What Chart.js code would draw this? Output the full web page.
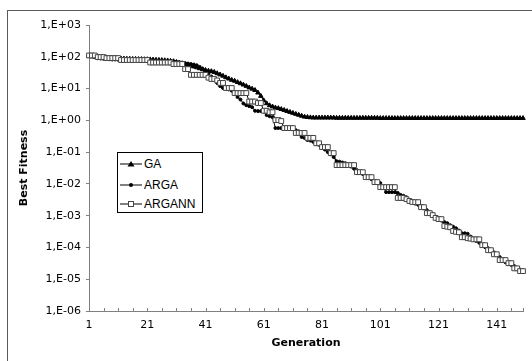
<!DOCTYPE html>
<html><head><meta charset="utf-8">
<script src="https://cdn.jsdelivr.net/npm/chart.js@4.4.0/dist/chart.umd.min.js"></script>
<style>
html,body{margin:0;padding:0;background:#fff;}
#wrap{position:relative;width:532px;height:361px;overflow:hidden;}
#frame{position:absolute;left:7px;top:10px;width:600px;height:400px;border:1px solid #5a5a5a;}
canvas{position:absolute;left:0;top:0;}
#legend{position:absolute;left:117px;top:152px;width:84px;height:59px;border:1px solid #000;background:#fff;font:12px "Liberation Sans",Arial,sans-serif;color:#000;}
.row{position:absolute;left:2px;height:14px;display:flex;align-items:center;white-space:nowrap;}
.row svg{margin-right:2px;display:block}
</style></head><body>
<div id="wrap"><div id="frame"></div><canvas id="c" width="532" height="361"></canvas><div id="legend"></div></div>
<script>
// categories: generation numbers 1..150
const generations = Array.from({length:150},(_,i)=>i+1);
const xTickLabels = ['1','21','41','61','81','101','121','141'];
const yTicks = [1e3,1e2,1e1,1e0,1e-1,1e-2,1e-3,1e-4,1e-5,1e-6];
const yTickLabels = ['1,E+03','1,E+02','1,E+01','1,E+00','1,E-01','1,E-02','1,E-03','1,E-04','1,E-05','1,E-06'];
const seriesNames = ['GA','ARGA','ARGANN'];

const gaValues = [
105,102,100,98,95,93,93,91,89,89,
88,87,87,86,86,85,85,84,84,83,
83,82,81,80,79,78,77,76,74,72,
68,63,60,58,55,52,49,46,43,40,
38,36,35,33,30,27.5,25,22.4,20.4,18.6,
17.4,15.8,14.5,13.2,12,10.7,9.8,8.9,7.4,5.8,
4.2,3.4,2.95,2.7,2.5,2.4,2.24,2.1,1.95,1.82,
1.70,1.58,1.48,1.38,1.29,1.26,1.23,1.21,1.21,1.21,
1.21,1.21,1.21,1.21,1.21,1.19,1.19,1.19,1.19,1.19,
1.19,1.19,1.19,1.19,1.19,1.19,1.19,1.19,1.19,1.19,
1.17,1.17,1.17,1.17,1.17,1.17,1.17,1.17,1.17,1.17,
1.17,1.17,1.17,1.17,1.17,1.17,1.17,1.17,1.17,1.17,
1.17,1.17,1.17,1.17,1.17,1.17,1.17,1.17,1.17,1.17,
1.17,1.17,1.17,1.17,1.17,1.17,1.17,1.17,1.17,1.17,
1.17,1.17,1.17,1.17,1.17,1.17,1.17,1.17,1.17,1.17];

const argaValues = [
105,105,98,90,88,86,85,84,82,82,
81,81,80,80,80,79,79,79,78,78,
77,77,76,76,75,74,73,72,71,70,
69,68,66,63,61,59,57,54,48,42,
36,30,24,19,15,12,10.4,10,9.4,8.6,
7.8,5.4,4.5,3.4,3.0,2.8,2.6,2.0,1.95,1.95,
1.9,1.46,1.35,1.26,0.57,0.57,0.57,0.57,0.57,0.57,
0.55,0.49,0.45,0.30,0.28,0.24,0.23,0.21,0.19,0.17,
0.144,0.12,0.1,0.085,0.070,0.052,0.050,0.047,0.045,0.039,
0.035,0.030,0.027,0.023,0.0203,0.018,0.0152,0.014,0.012,0.011,
0.0106,0.0075,0.0055,0.0055,0.0055,0.0055,0.0052,0.0045,0.0042,0.0038,
0.0031,0.00266,0.0024,0.0022,0.002,0.0017,0.00149,0.0013,0.0011,0.00092,
0.00078,0.0007,0.00063,0.00058,0.0005,0.00045,0.0004,0.00034,0.00028,0.00028,
0.00027,0.00022,0.00018,0.00016,0.00014,0.000118,0.000102,0.000095,0.000082,0.00007,
0.000061,0.00005,0.000042,0.000034,0.000031,0.000028,0.000026,0.000023,0.00002,0.000019];

const argannValues = [
110,110,110,98,98,98,91,91,91,91,
91,79,79,79,79,79,79,79,79,79,
79,66,66,66,66,66,66,66,66,59,
59,59,59,41,41,27,27,27,27,27,
27,22,20,20,18,15,15,10.4,10.4,10.4,
7.2,7.2,7.2,7.2,7.2,3.9,3.9,3.9,3.5,3.5,
2.0,2.0,1.8,1.8,1.02,1.02,0.95,0.57,0.57,0.57,
0.57,0.40,0.40,0.40,0.40,0.28,0.28,0.28,0.19,0.19,
0.144,0.144,0.144,0.093,0.093,0.039,0.039,0.039,0.039,0.039,
0.039,0.039,0.0234,0.0234,0.0234,0.0163,0.0163,0.0163,0.0114,0.0114,
0.0079,0.0079,0.0079,0.0079,0.0079,0.0079,0.0036,0.0036,0.0036,0.0033,
0.0029,0.0027,0.00266,0.00266,0.00185,0.00185,0.0012,0.0012,0.00104,0.00085,
0.00078,0.00078,0.00047,0.00045,0.00043,0.00033,0.00031,0.0003,0.00021,0.00021,
0.000195,0.00019,0.00018,0.00018,0.00018,0.000118,0.000118,0.000082,0.000082,0.000061,
0.000061,0.00004,0.00004,0.00004,0.000032,0.000032,0.000022,0.000022,0.000018,0.000018];

const axisGray = '#808080';
const tickFont = {family:'"DejaVu Sans", sans-serif', size:11};
const titleFont = {family:'"DejaVu Sans", sans-serif', size:11, weight:'bold'};

const insideTicks = {
  id:'insideTicks',
  afterDatasetsDraw(chart){
    const s = chart.scales.x, ctx = chart.ctx;
    ctx.save();
    ctx.strokeStyle = axisGray; ctx.lineWidth = 1;
    const idx = [];
    for (let i = 0; i < generations.length; i += 5) idx.push(i);
    idx.push(generations.length - 1);
    idx.forEach(i => {
      const x = Math.round(s.getPixelForTick(i)) + 0.5;
      ctx.beginPath(); ctx.moveTo(x, s.top); ctx.lineTo(x, s.top - 3); ctx.stroke();
    });
    ctx.restore();
  }
};

const chart = new Chart(document.getElementById('c'), {
  type:'line',
  data:{
    labels: generations,
    datasets:[
      {label:seriesNames[0], data:gaValues, borderColor:'#000', borderWidth:1, pointStyle:'triangle', pointRadius:2.6, pointBackgroundColor:'#000', pointBorderColor:'#000', pointBorderWidth:1, order:3, clip:6},
      {label:seriesNames[1], data:argaValues, borderColor:'#000', borderWidth:1, pointStyle:'circle', pointRadius:1.5, pointBackgroundColor:'#000', pointBorderColor:'#000', pointBorderWidth:1, order:2, clip:6},
      {label:seriesNames[2], data:argannValues, borderColor:'#000', borderWidth:1, pointStyle:'rect', pointRadius:3.4, pointBackgroundColor:'#fff', pointBorderColor:'#444', pointBorderWidth:1, order:1, clip:6}
    ]
  },
  options:{
    responsive:false, animation:false, devicePixelRatio:1,
    layout:{padding:{left:0, right:9, top:25, bottom:0}},
    plugins:{legend:{display:false}, tooltip:{enabled:false}},
    elements:{line:{tension:0}},
    scales:{
      x:{
        type:'category', offset:false,
        grid:{display:true, drawOnChartArea:false, drawTicks:false, color:axisGray},
        border:{display:true, color:axisGray, width:1},
        ticks:{autoSkip:false, maxRotation:0, minRotation:0, padding:8, color:'#000', font:tickFont,
          callback:function(v, i){ const l = String(generations[i]); return xTickLabels.includes(l) ? l : ''; }},
        title:{display:true, text:'Generation', color:'#000', font:titleFont, padding:{top:0, bottom:11}},
        afterFit(s){ s.height = 50; }
      },
      y:{
        type:'logarithmic', min:1e-6, max:1e3,
        grid:{display:true, drawOnChartArea:false, drawTicks:true, tickLength:3, color:axisGray},
        border:{display:true, color:axisGray, width:1},
        afterBuildTicks(s){ s.ticks = yTicks.map(v => ({value:v})); },
        ticks:{padding:5, color:'#000', font:tickFont, autoSkip:false,
          callback:function(v, i){ return yTickLabels[i]; }},
        title:{display:true, text:'Best Fitness', color:'#000', font:titleFont, padding:{top:18, bottom:0}},
        afterFit(s){ s.width = 89; }
      }
    }
  },
  plugins:[insideTicks]
});

// HTML legend built from the datasets
const legend = document.getElementById('legend');
const rowTops = [4, 25, 44];
chart.data.datasets.forEach((ds, i) => {
  const row = document.createElement('div');
  row.className = 'row';
  row.style.top = rowTops[i] + 'px';
  let mk = '';
  if (ds.pointStyle === 'triangle') mk = '<polygon points="11,2 14.5,7.5 7.5,7.5" fill="#000"/>';
  else if (ds.pointStyle === 'circle') mk = '<circle cx="11" cy="5" r="2" fill="#000"/>';
  else mk = '<rect x="8.5" y="2.5" width="5" height="5" fill="#fff" stroke="#444" stroke-width="1"/>';
  row.innerHTML = '<svg width="22" height="10" viewBox="0 0 22 10"><line x1="0" y1="5" x2="22" y2="5" stroke="#000" stroke-width="1"/>' + mk + '</svg><span>' + ds.label + '</span>';
  legend.appendChild(row);
});
</script>
</body></html>
